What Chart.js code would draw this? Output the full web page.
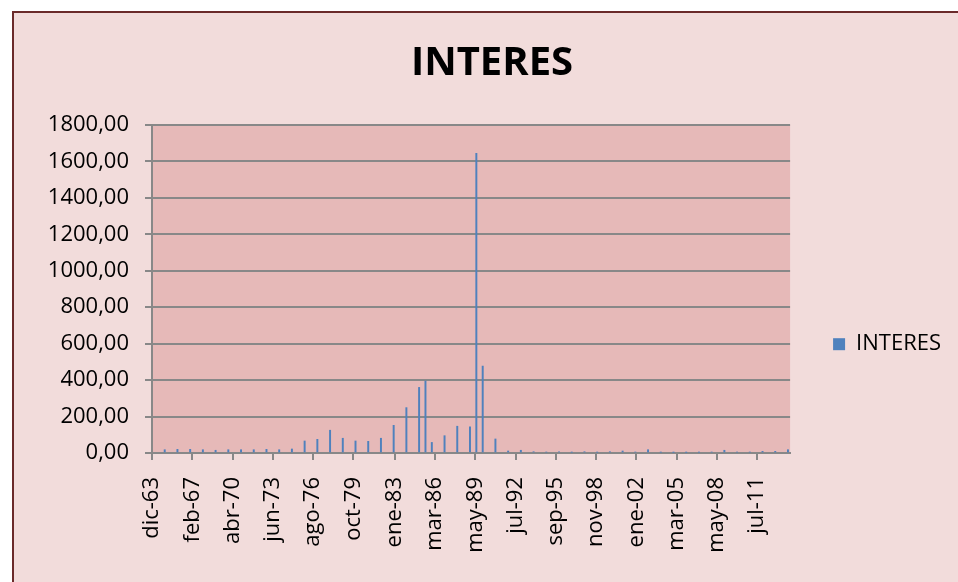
<!DOCTYPE html>
<html>
<head>
<meta charset="utf-8">
<script src="https://cdn.jsdelivr.net/npm/chart.js@4.4.1/dist/chart.umd.min.js"></script>
<style>
  html, body { margin: 0; padding: 0; background: #fff; overflow: hidden; }
  #frame {
    position: absolute; left: 12px; top: 11px; width: 960px; height: 590px;
    border: 2px solid #6b2a2a; background: #f2dcdb;
  }
  #chart { position: absolute; left: 0; top: 0; }
</style>
</head>
<body>
<div id="frame"></div>
<canvas id="chart" width="958" height="582"></canvas>
<script>
// fechas (mes-año) de cada pago de interés
const fechas = [
  'dic-64', 'dic-65', 'dic-66', 'dic-67', 'dic-68', 'dic-69', 'dic-70', 'dic-71',
  'dic-72', 'dic-73', 'dic-74', 'dic-75', 'dic-76', 'dic-77', 'dic-78', 'dic-79',
  'dic-80', 'dic-81', 'dic-82', 'dic-83', 'dic-84', 'jun-85', 'dic-85', 'dic-86',
  'dic-87', 'dic-88', 'jun-89', 'dic-89', 'dic-90', 'dic-91', 'dic-92', 'dic-93',
  'dic-94', 'dic-95', 'dic-96', 'dic-97', 'dic-98', 'dic-99', 'dic-00', 'dic-01',
  'dic-02', 'dic-03', 'dic-04', 'dic-05', 'dic-06', 'dic-07', 'dic-08', 'dic-09',
  'dic-10', 'dic-11', 'dic-12', 'dic-13'
];

// INTERES
const interes = [
  18, 20, 20, 18, 15, 18, 18, 18,
  20, 18, 22, 66, 75, 125, 81, 66,
  64, 81, 152, 249, 360, 395, 58, 95,
  147, 144, 1644, 477, 77, 11, 15, 7,
  5, 7, 4, 7, 4, 7, 11, 5,
  18, 4, 3, 3, 4, 5, 15, 5,
  5, 9, 9, 18
];

// etiquetas del eje X
const etiquetasX = [
  'dic-63', 'feb-67', 'abr-70', 'jun-73', 'ago-76', 'oct-79', 'ene-83', 'mar-86',
  'may-89', 'jul-92', 'sep-95', 'nov-98', 'ene-02', 'mar-05', 'may-08', 'jul-11'
];

const meses = ['ene', 'feb', 'mar', 'abr', 'may', 'jun', 'jul', 'ago', 'sep', 'oct', 'nov', 'dic'];

// months elapsed since dic-63
function mesIndice(txt) {
  const [m, yy] = txt.split('-');
  const y = Number(yy);
  const year = y >= 50 ? 1900 + y : 2000 + y;
  return (year - 1963) * 12 + meses.indexOf(m) - 11;
}

const FONT = 'Open Sans';

const plotBg = {
  id: 'plotBg',
  beforeDraw(chart) {
    const { ctx, chartArea: a } = chart;
    ctx.save();
    ctx.fillStyle = '#e6b9b8';
    ctx.fillRect(a.left, a.top, a.right - a.left, a.bottom - a.top);
    ctx.restore();
  }
};

new Chart(document.getElementById('chart'), {
  type: 'bar',
  data: {
    datasets: [{
      label: 'INTERES',
      data: fechas.map((f, i) => ({ x: mesIndice(f), y: interes[i] })),
      backgroundColor: '#4f81bd',
      borderWidth: 0,
      barThickness: 1.3
    }]
  },
  options: {
    responsive: false,
    animation: false,
    layout: { padding: { left: 33, right: 7, top: 0, bottom: 0 } },
    plugins: {
      title: {
        display: true,
        text: 'INTERES',
        color: '#000',
        font: { family: FONT, size: 40, weight: 'bold' },
        padding: { top: 40, bottom: 37 }
      },
      legend: {
        position: 'right',
        title: {
          display: true,
          text: '',
          font: { family: FONT, size: 12 },
          padding: { top: 46, bottom: 46 }
        },
        labels: {
          boxWidth: 12,
          boxHeight: 12,
          padding: 43,
          color: '#000',
          font: { family: FONT, size: 22 }
        }
      },
      tooltip: { enabled: false }
    },
    scales: {
      x: {
        type: 'linear',
        min: 0,
        max: 602,
        offset: false,
        afterFit(scale) { scale.height = 129; },
        afterBuildTicks(scale) {
          scale.ticks = etiquetasX.map(t => ({ value: mesIndice(t) }));
        },
        ticks: {
          autoSkip: false,
          minRotation: 90,
          maxRotation: 90,
          padding: 17,
          color: '#000',
          font: { family: FONT, size: 22 },
          callback: (v, i) => etiquetasX[i]
        },
        grid: {
          offset: false,
          drawOnChartArea: false,
          drawTicks: true,
          tickLength: 7,
          color: '#888',
          lineWidth: 2
        },
        border: { display: true, color: '#888', width: 2 }
      },
      y: {
        min: 0,
        max: 1800,
        afterFit(scale) { scale.width = 119; },
        ticks: {
          stepSize: 200,
          padding: 16,
          color: '#000',
          font: { family: FONT, size: 22 },
          callback: v => v.toFixed(2).replace('.', ',')
        },
        grid: {
          tickLength: 7,
          color: '#888',
          lineWidth: 2
        },
        border: { display: true, color: '#888', width: 2 }
      }
    }
  },
  plugins: [plotBg]
});
</script>
</body>
</html>
